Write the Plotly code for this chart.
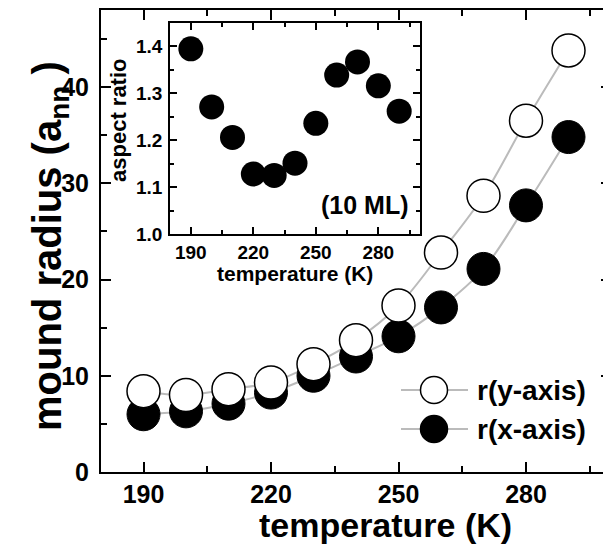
import plotly.graph_objects as go

# ---------------- data ----------------
temperature = [190, 200, 210, 220, 230, 240, 250, 260, 270, 280, 290]
r_y_axis = [8.4, 8.0, 8.6, 9.3, 11.2, 13.7, 17.3, 22.8, 28.7, 36.5, 43.8]
r_x_axis = [6.0, 6.3, 7.1, 8.25, 10.0, 12.0, 14.1, 17.1, 21.1, 27.7, 34.8]
aspect_ratio = [1.395, 1.271, 1.206, 1.128, 1.125, 1.151, 1.236, 1.339, 1.367, 1.316, 1.262]

x_tick_vals = [190, 220, 250, 280]
y_tick_vals = [0, 10, 20, 30, 40]
inset_y_tick_vals = [1.0, 1.1, 1.2, 1.3, 1.4]
legend_labels = ["r(y-axis)", "r(x-axis)"]

# ---------------- styles / layout geometry ----------------
FONT = "Liberation Sans, Arial, Helvetica, sans-serif"
LINE_GRAY = "#bbbbbb"
OFF = 8                      # default page body margin of the html page
W, H = 611 - OFF, 546 - OFF  # figure size so it fills the window exactly
# target plot frame in window pixels: left 101, right 611, top 10, bottom 472
ML, MR, MT, MB = 101 - OFF, 0, 10 - OFF, 546 - 472
PW, PH = W - ML - MR, H - MT - MB


def px_to_paper_x(px):
    return (px - OFF - ML) / PW


def px_to_paper_y(py):
    return (H - MB - (py - OFF)) / PH


fig = go.Figure()

# connecting lines (drawn first, beneath the markers)
fig.add_trace(go.Scatter(x=temperature, y=r_x_axis, mode="lines",
                         line=dict(color=LINE_GRAY, width=2, shape="spline", smoothing=1.0),
                         showlegend=False, hoverinfo="skip"))
fig.add_trace(go.Scatter(x=temperature, y=r_y_axis, mode="lines",
                         line=dict(color=LINE_GRAY, width=2, shape="spline", smoothing=1.0),
                         showlegend=False, hoverinfo="skip"))
# filled markers (x-axis radius)
fig.add_trace(go.Scatter(x=temperature, y=r_x_axis, mode="markers", name=legend_labels[1],
                         marker=dict(size=33, color="black", line=dict(color="black", width=1)),
                         showlegend=False))
# open markers (y-axis radius), on top
fig.add_trace(go.Scatter(x=temperature, y=r_y_axis, mode="markers", name=legend_labels[0],
                         marker=dict(size=33, color="white", line=dict(color="black", width=1.5)),
                         showlegend=False))

# inset
fig.add_trace(go.Scatter(x=temperature, y=aspect_ratio, mode="markers", xaxis="x2", yaxis="y2",
                         marker=dict(size=25, color="black"), showlegend=False))

tick_font = dict(family=FONT, size=25, color="black", weight="bold")
inset_tick_font = dict(family=FONT, size=19, color="black", weight="bold")

common_axis = dict(showgrid=False, zeroline=False, automargin=False, tickcolor="black",
                   linecolor="black", showline=True, mirror="allticks", ticks="inside")

fig.update_layout(
    template="none",
    width=W, height=H,
    margin=dict(l=ML, r=MR, t=MT, b=MB, pad=0),
    paper_bgcolor="white", plot_bgcolor="white",
    font=dict(family=FONT, color="black"),
    showlegend=False,
    xaxis=dict(
        common_axis, range=[180, 300], tickmode="array", tickvals=x_tick_vals,
        ticklen=10, tickwidth=2, linewidth=2,
        minor=dict(dtick=15, tick0=175, ticks="inside", ticklen=6, tickwidth=2, tickcolor="black"),
        tickfont=tick_font, ticklabelstandoff=-1, domain=[0, 1],
    ),
    yaxis=dict(
        common_axis, range=[0, 48], tickmode="array", tickvals=y_tick_vals,
        ticklen=10, tickwidth=2, linewidth=2,
        minor=dict(dtick=5, tick0=0, ticks="inside", ticklen=6, tickwidth=2, tickcolor="black"),
        tickfont=tick_font, ticklabelstandoff=5, domain=[0, 1],
    ),
    xaxis2=dict(
        common_axis, domain=[px_to_paper_x(170), px_to_paper_x(420)], anchor="y2",
        range=[180, 300], tickmode="array", tickvals=x_tick_vals,
        ticklen=7, tickwidth=1.5, linewidth=1.5,
        minor=dict(dtick=15, tick0=175, ticks="inside", ticklen=4, tickwidth=1.5, tickcolor="black"),
        tickfont=inset_tick_font, ticklabelstandoff=0,
    ),
    yaxis2=dict(
        common_axis, domain=[px_to_paper_y(234), px_to_paper_y(23)], anchor="x2",
        range=[1.0, 1.45], tickmode="array", tickvals=inset_y_tick_vals, tickformat=".1f",
        ticklen=7, tickwidth=1.5, linewidth=1.5,
        minor=dict(dtick=0.05, tick0=1.0, ticks="inside", ticklen=4, tickwidth=1.5, tickcolor="black"),
        tickfont=inset_tick_font, ticklabelstandoff=2,
    ),
)

# inset white background
fig.add_shape(type="rect", xref="paper", yref="paper", layer="below",
              x0=px_to_paper_x(170), x1=px_to_paper_x(420),
              y0=px_to_paper_y(234), y1=px_to_paper_y(23),
              fillcolor="white", line=dict(width=0))

# axis titles
fig.add_annotation(text="temperature (K)", xref="paper", yref="paper",
                   x=px_to_paper_x(385), y=px_to_paper_y(525), xanchor="center", yanchor="middle",
                   showarrow=False, borderpad=0,
                   font=dict(family=FONT, size=34, weight="bold", color="black"))
fig.add_annotation(text="mound radius (a<sub>nn</sub> )", xref="paper", yref="paper", textangle=-90,
                   x=px_to_paper_x(50), y=px_to_paper_y(246), xanchor="center", yanchor="middle",
                   showarrow=False, font=dict(family=FONT, size=40, weight="bold", color="black"))
fig.add_annotation(text="temperature (K)", xref="paper", yref="paper",
                   x=px_to_paper_x(295), y=px_to_paper_y(273), xanchor="center", yanchor="middle",
                   showarrow=False, borderpad=0,
                   font=dict(family=FONT, size=21, weight="bold", color="black"))
fig.add_annotation(text="aspect ratio", xref="paper", yref="paper", textangle=-90,
                   x=px_to_paper_x(118), y=px_to_paper_y(120), xanchor="center", yanchor="middle",
                   showarrow=False, font=dict(family=FONT, size=22, weight="bold", color="black"))

fig.add_annotation(text="(10 ML)", xref="paper", yref="paper",
                   x=px_to_paper_x(411), y=px_to_paper_y(205), xanchor="right", yanchor="middle",
                   showarrow=False, font=dict(family=FONT, size=25, weight="bold", color="black"))

# custom legend (large symbols like the reference)
legend_rows_py = [390, 429]
legend_fill = ["white", "black"]
rx = 13.5 / PW
ry = 13.5 / PH
for label, py, fill in zip(legend_labels, legend_rows_py, legend_fill):
    yp = px_to_paper_y(py)
    fig.add_shape(type="line", xref="paper", yref="paper",
                  x0=px_to_paper_x(401), x1=px_to_paper_x(468), y0=yp, y1=yp,
                  line=dict(color=LINE_GRAY, width=2))
    cx = px_to_paper_x(434)
    fig.add_shape(type="circle", xref="paper", yref="paper",
                  x0=cx - rx, x1=cx + rx, y0=yp - ry, y1=yp + ry,
                  fillcolor=fill, line=dict(color="black", width=1.5))
    fig.add_annotation(text=label, xref="paper", yref="paper",
                       x=px_to_paper_x(475), y=yp, xanchor="left", yanchor="middle",
                       showarrow=False, font=dict(family=FONT, size=28, weight="bold", color="black"))

fig.write_html("out.html")
